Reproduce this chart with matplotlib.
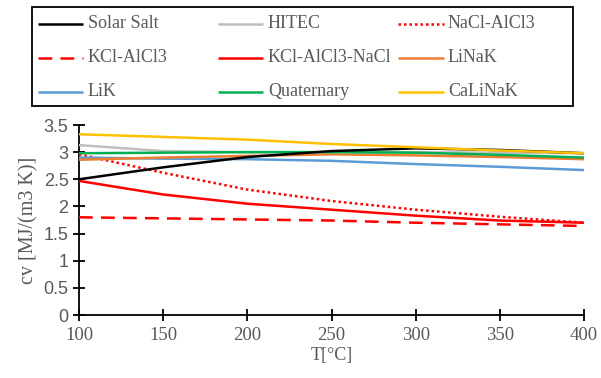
import matplotlib
matplotlib.use("Agg")
import matplotlib.pyplot as plt
from matplotlib.ticker import FormatStrFormatter, MultipleLocator
from matplotlib.lines import Line2D
from matplotlib.patches import Rectangle

T = [100, 150, 200, 250, 300, 350, 400]
solar_salt = [2.50, 2.72, 2.91, 3.02, 3.07, 3.04, 2.98]
hitec = [3.13, 3.02, 3.00, 3.00, 3.00, 2.99, 2.98]
nacl_alcl3 = [2.96, 2.62, 2.31, 2.10, 1.94, 1.81, 1.70]
kcl_alcl3 = [1.80, 1.78, 1.76, 1.74, 1.70, 1.67, 1.64]
kcl_alcl3_nacl = [2.47, 2.22, 2.05, 1.94, 1.83, 1.74, 1.70]
linak = [2.86, 2.90, 2.93, 2.96, 2.94, 2.91, 2.87]
lik = [2.90, 2.88, 2.87, 2.84, 2.78, 2.73, 2.67]
quaternary = [2.98, 2.99, 3.00, 3.00, 2.99, 2.95, 2.90]
calinak = [3.33, 3.28, 3.23, 3.15, 3.09, 3.03, 2.98]

names = ["Solar Salt", "HITEC", "NaCl-AlCl3",
         "KCl-AlCl3", "KCl-AlCl3-NaCl", "LiNaK",
         "LiK", "Quaternary", "CaLiNaK"]
values = [solar_salt, hitec, nacl_alcl3, kcl_alcl3, kcl_alcl3_nacl,
          linak, lik, quaternary, calinak]
colors = ["#000000", "#BFBFBF", "#FF0000", "#FF0000", "#FF0000",
          "#ED7D31", "#5B9BD5", "#00B050", "#FFC000"]
styles = ["-", "-", (0, (1, 1.2)), (0, (5.5, 3.3)), "-", "-", "-", "-", "-"]

serif = ["Liberation Serif", "DejaVu Serif"]
sans = ["Liberation Sans", "DejaVu Sans"]
gray = "#595959"
W, H = 601, 378

def fx(x):
    return x / W

def fy(y):
    return 1 - y / H

fig = plt.figure(figsize=(W / 100, H / 100), dpi=100)
ax = fig.add_axes([fx(79), fy(315), (584 - 79) / W, (315 - 125) / H])

draw_order = ["KCl-AlCl3", "KCl-AlCl3-NaCl", "NaCl-AlCl3", "LiK", "LiNaK",
              "HITEC", "Quaternary", "Solar Salt", "CaLiNaK"]
lw = 1.8
for name, vals, col, ls in zip(names, values, colors, styles):
    ax.plot(T, vals, color=col, linestyle=ls, linewidth=lw,
            zorder=3 + draw_order.index(name), solid_capstyle="butt",
            clip_on=False)

ax.set_xlim(100, 400)
ax.set_ylim(0, 3.5)
ax.xaxis.set_major_locator(MultipleLocator(50))
ax.yaxis.set_major_locator(MultipleLocator(0.5))
ax.yaxis.set_major_formatter(FormatStrFormatter("%g"))
for s in ["top", "right"]:
    ax.spines[s].set_visible(False)
for s in ["left", "bottom"]:
    ax.spines[s].set_linewidth(1.3)
    ax.spines[s].set_color("#000000")
    ax.spines[s].set_zorder(2)
ax.tick_params(direction="inout", length=9, width=1.3, color="#000000",
               labelcolor=gray, labelsize=13.5)
ax.tick_params(axis="x", pad=4)
ax.tick_params(axis="y", pad=3)
for lab in ax.get_xticklabels():
    lab.set_family(serif)
for lab in ax.get_yticklabels():
    lab.set_family(sans)
    lab.set_fontsize(13)
ax.set_xlabel("T[°C]", family=serif, color=gray, fontsize=13, labelpad=2)
ax.set_ylabel("cv [MJ/(m3 K)]", family=serif, color=gray, fontsize=14.5,
              labelpad=4)

# legend drawn in figure coordinates, row by row (3 columns)
fig.add_artist(Rectangle((fx(32), fy(106)), (573 - 32) / W, (106 - 7) / H,
                         transform=fig.transFigure, fill=False,
                         edgecolor="#000000", linewidth=1.3))
col_line = [(38, 83), (218, 263), (398, 444)]
col_text = [88, 268, 448]
row_y = [24, 58, 92]
for i, (name, col, ls) in enumerate(zip(names, colors, styles)):
    r, c = divmod(i, 3)
    x0, x1 = col_line[c]
    y = row_y[r]
    fig.add_artist(Line2D([fx(x0), fx(x1)], [fy(y), fy(y)],
                          transform=fig.transFigure, color=col,
                          linestyle=ls, linewidth=lw, solid_capstyle="butt"))
    fig.text(fx(col_text[c]), fy(y), name, family=serif, fontsize=13,
             color=gray, va="center", ha="left")

fig.savefig("out.png", dpi=100)
